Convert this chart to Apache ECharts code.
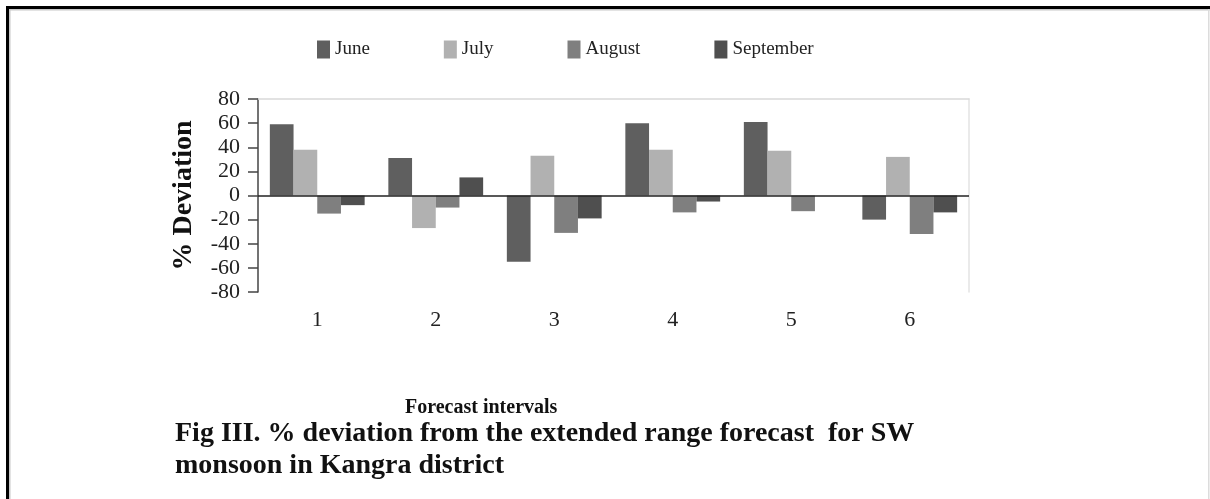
<!DOCTYPE html>
<html>
<head>
<meta charset="utf-8">
<script src="https://cdn.jsdelivr.net/npm/echarts@6/dist/echarts.min.js"></script>
<style>
  html, body { margin: 0; padding: 0; background: #fff; }
  #chart { width: 1210px; height: 499px; }
</style>
</head>
<body>
<div id="chart"></div>
<script>
// Forecast intervals on the category axis
const intervals = ['1', '2', '3', '4', '5', '6'];
// % deviation per month for each forecast interval
const june = [59, 31, -55, 60, 61, -20];
const july = [38, -27, 33, 38, 37, 32];
const august = [-15, -10, -31, -14, -13, -32];
const september = [-8, 15, -19, -5, 0, -14];

const seriesNames = ['June', 'July', 'August', 'September'];
const seriesColors = ['#5f5f5f', '#b1b1b1', '#7f7f7f', '#4f4f4f'];
const seriesData = [june, july, august, september];

const SERIF = '"Liberation Serif", "Times New Roman", serif';

const chart = echarts.init(document.getElementById('chart'), null, { renderer: 'canvas' });

const series = seriesData.map((data, i) => ({
  name: seriesNames[i],
  type: 'bar',
  data: data,
  barGap: '0%',
  barCategoryGap: '20%',
  itemStyle: { color: seriesColors[i] },
  emphasis: { disabled: true },
  markLine: i === 0 ? {
    silent: true,
    symbol: ['none', 'none'],
    label: { show: false },
    lineStyle: { color: '#222', width: 1.5, type: 'solid' },
    data: [{ yAxis: 0 }]
  } : undefined
}));

chart.setOption({
  animation: false,
  backgroundColor: '#fff',
  grid: { left: 258, right: 241, top: 99, bottom: 207 },
  legend: {
    data: seriesNames,
    left: 312,
    top: 35,
    itemWidth: 13,
    itemHeight: 18,
    itemGap: 74,
    icon: 'rect',
    textStyle: { fontFamily: SERIF, fontSize: 19, color: '#222' }
  },
  xAxis: [
    {
      type: 'category',
      data: intervals,
      position: 'bottom',
      axisLine: { show: false, onZero: false },
      axisTick: { show: false },
      axisLabel: { fontFamily: SERIF, fontSize: 22, color: '#222', margin: 17 }
    },
    {
      type: 'category',
      data: intervals,
      position: 'top',
      axisLine: { show: true, onZero: false, lineStyle: { color: '#d9d9d9', width: 1.5 } },
      axisTick: { show: false },
      axisLabel: { show: false }
    }
  ],
  yAxis: [
    {
      type: 'value',
      min: -80,
      max: 80,
      interval: 20,
      name: '% Deviation',
      nameLocation: 'middle',
      nameGap: 60,
      nameRotate: 90,
      nameTextStyle: { fontFamily: SERIF, fontSize: 28, fontWeight: 'bold', color: '#111' },
      axisLine: { show: true, lineStyle: { color: '#444', width: 1.5 } },
      axisTick: { show: true, inside: false, length: 10, lineStyle: { color: '#444', width: 1.5 } },
      axisLabel: {
        fontFamily: SERIF, fontSize: 22, color: '#222', margin: 18,
        showMinLabel: true, showMaxLabel: true, hideOverlap: false
      },
      splitLine: { show: false }
    },
    {
      type: 'value',
      min: -80,
      max: 80,
      interval: 20,
      position: 'right',
      axisLine: { show: true, lineStyle: { color: '#e3e3e3', width: 1.5 } },
      axisTick: { show: false },
      axisLabel: { show: false },
      splitLine: { show: false }
    }
  ],
  series: series,
  graphic: [
    // page frame
    { type: 'rect', shape: { x: 6, y: 6, width: 1220, height: 3 }, style: { fill: '#000' }, silent: true },
    { type: 'rect', shape: { x: 6, y: 6, width: 3, height: 500 }, style: { fill: '#000' }, silent: true },
    { type: 'rect', shape: { x: 9, y: 9, width: 1210, height: 1.5 }, style: { fill: '#c8c8c8' }, silent: true },
    { type: 'rect', shape: { x: 9, y: 9, width: 1.5, height: 500 }, style: { fill: '#c8c8c8' }, silent: true },
    { type: 'rect', shape: { x: 1208, y: 9, width: 1.5, height: 500 }, style: { fill: '#dcdcdc' }, silent: true },
    // x axis title
    {
      type: 'text', left: 405, top: 398, silent: true,
      style: { text: 'Forecast intervals', font: 'bold 20px ' + SERIF, fill: '#111' }
    },
    // figure caption
    {
      type: 'text', left: 175, top: 418, silent: true,
      style: {
        text: 'Fig III. % deviation from the extended range forecast  for SW\nmonsoon in Kangra district',
        font: 'bold 28px ' + SERIF, fill: '#111', lineHeight: 32
      }
    }
  ]
});
</script>
</body>
</html>
